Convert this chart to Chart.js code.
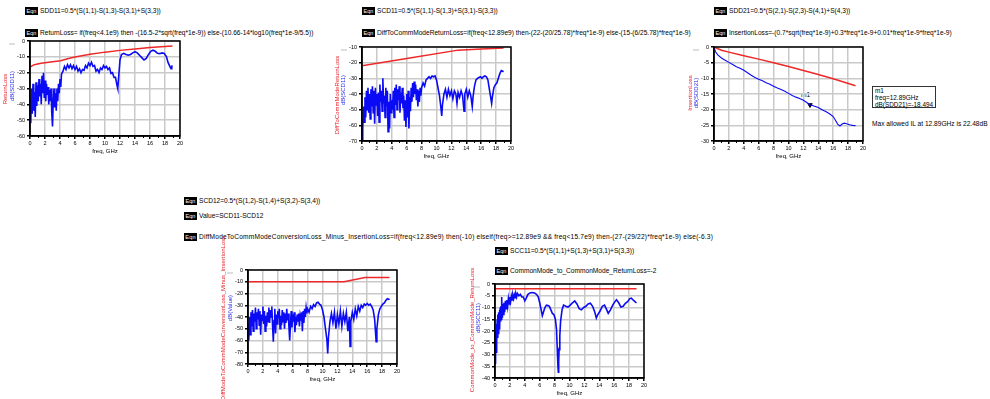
<!DOCTYPE html>
<html lang="en">
<head>
<meta charset="UTF-8">
<title>Mixed-mode S-parameter limits</title>
<script src="https://cdn.jsdelivr.net/npm/chart.js"></script>
<style>
  body { margin: 0; background: #fff; width: 990px; height: 399px; overflow: hidden; position: relative;
         font-family: "Liberation Sans", Arial, sans-serif; color: #000; }
  .eq { position: absolute; white-space: nowrap; font-size: 6.6px; line-height: 8px; }
  .eq .tag { display: inline-block; width: 13px; height: 8px; line-height: 8px; background: #000; color: #fff;
             font-size: 5.5px; text-align: center; margin-right: 2px; vertical-align: top; }
  .plot { position: absolute; }
  .yt { position: absolute; white-space: nowrap; font-size: 6px; transform: translate(-50%, -50%) rotate(-90deg); }
  .red { color: #e8202a; }
  .blue { color: #2a2ae8; }
  .xt { position: absolute; white-space: nowrap; font-size: 6px; transform: translateX(-50%); }
  .unit { position: absolute; font-size: 4px; color: #aaa; }
  .mk { position: absolute; border: 1px solid #333; font-size: 6.4px; line-height: 7.2px; padding: 0 2px; white-space: nowrap; }
  .note { position: absolute; font-size: 6.6px; white-space: nowrap; }
</style>
</head>
<body>

<div class="eq" style="left:25px;top:7px"><span class="tag">Eqn</span>SDD11=0.5*(S(1,1)-S(1,3)-S(3,1)+S(3,3))</div>
<div class="eq" style="left:25px;top:29px"><span class="tag">Eqn</span>ReturnLoss= if(freq&lt;4.1e9) then -(16.5-2*sqrt(freq*1e-9)) else-(10.66-14*log10(freq*1e-9/5.5))</div>

<div class="eq" style="left:362px;top:7px"><span class="tag">Eqn</span>SCD11=0.5*(S(1,1)-S(1,3)+S(3,1)-S(3,3))</div>
<div class="eq" style="left:362px;top:29px"><span class="tag">Eqn</span>DiffToCommModeReturnLoss=if(freq&lt;12.89e9) then-(22-(20/25.78)*freq*1e-9) else-(15-(6/25.78)*freq*1e-9)</div>

<div class="eq" style="left:714px;top:7px"><span class="tag">Eqn</span>SDD21=0.5*(S(2,1)-S(2,3)-S(4,1)+S(4,3))</div>
<div class="eq" style="left:714px;top:29px"><span class="tag">Eqn</span>InsertionLoss=-(0.7*sqrt(freq*1e-9)+0.3*freq*1e-9+0.01*freq*1e-9*freq*1e-9)</div>

<div class="eq" style="left:184px;top:197px"><span class="tag">Eqn</span>SCD12=0.5*(S(1,2)-S(1,4)+S(3,2)-S(3,4))</div>
<div class="eq" style="left:184px;top:212px"><span class="tag">Eqn</span>Value=SCD11-SCD12</div>
<div class="eq" style="left:184px;top:233px;letter-spacing:0.2px"><span class="tag">Eqn</span>DiffModeToCommModeConversionLoss_Minus_InsertionLoss=if(freq&lt;12.89e9) then(-10) elseif(freq&gt;=12.89e9 &amp;&amp; freq&lt;15.7e9) then-(27-(29/22)*freq*1e-9) else(-6.3)</div>

<div class="eq" style="left:495px;top:247px"><span class="tag">Eqn</span>SCC11=0.5*(S(1,1)+S(1,3)+S(3,1)+S(3,3))</div>
<div class="eq" style="left:495px;top:267px"><span class="tag">Eqn</span>CommonMode_to_CommonMode_ReturnLoss=-2</div>

<div class="mk" style="left:872px;top:86px;width:58px;height:20px">m1<br>freq=12.89GHz<br>dB(SDD21)=-18.494</div>
<div class="note" style="left:872px;top:120px">Max allowed IL at 12.89GHz is 22.48dB</div>
<div class="note" style="left:801px;top:91px">m1</div>

<script>
// frequency axis shared by every plot, GHz
const freqTicks = [0, 2, 4, 6, 8, 10, 12, 14, 16, 18, 20];

// dB(SDD11) and its limit
const sdd11Freq = [
  0, 0.1, 0.2, 0.3, 0.4, 0.5, 0.6, 0.7, 0.8, 0.9,
  1, 1.1, 1.2, 1.3, 1.4, 1.5, 1.6, 1.7, 1.8, 1.9,
  2, 2.1, 2.2, 2.3, 2.4, 2.5, 2.6, 2.7, 2.8, 2.9,
  3, 3.1, 3.2, 3.3, 3.4, 3.5, 3.6, 3.7, 3.8, 3.9,
  4, 4.1, 4.2, 4.4, 4.6, 4.8, 5, 5.2, 5.4, 5.6,
  5.8, 6, 6.2, 6.4, 6.6, 6.8, 7, 7.2, 7.4, 7.6,
  7.8, 8, 8.2, 8.4, 8.6, 8.8, 9, 9.2, 9.4, 9.6,
  9.8, 10, 10.2, 10.4, 10.6, 10.8, 11, 11.2, 11.4, 11.6,
  11.7, 11.8, 11.9, 12, 12.2, 12.5, 12.8, 13.1, 13.4, 13.7,
  14, 14.3, 14.6, 14.9, 15.2, 15.5, 15.8, 16.1, 16.4, 16.7,
  17, 17.3, 17.6, 17.9, 18.2, 18.4, 18.6, 18.8, 18.9, 19];
const sdd11Db = [
  -37, -52, -30, -46, -27, -44, -32, -48, -26, -41,
  -28, -38, -24, -35, -27, -40, -22, -33, -20, -36,
  -25, -38, -27, -34, -29, -40, -31, -38, -30, -45,
  -54, -38, -30, -42, -33, -44, -30, -38, -27, -33,
  -24, -29, -21, -19, -16, -18, -15, -17, -15, -17.5,
  -15.5, -18, -16, -19, -17.5, -20, -18, -18.5, -15.5, -17,
  -14, -15.5, -13.5, -16, -15.5, -19, -18, -20, -17, -18,
  -15.5, -17, -16, -18, -17, -20.5, -20, -23, -23, -28,
  -30, -24, -18, -12, -8.5, -7.8, -8.5, -9, -8.5, -7.5,
  -6.8, -7.5, -9, -10.5, -12, -11, -8.5, -6.5, -5.8, -6.5,
  -7.8, -8, -7.5, -7.8, -10, -13.5, -15.5, -17.5, -16, -15.5];
const returnLossFreq = [0, 0.5, 1, 1.5, 2, 3, 4.1, 5, 6, 8, 10, 12, 14, 16, 17.5, 19];
const returnLossDb = [-16.5, -15.09, -14.5, -14.05, -13.67, -13.04, -12.45, -11.24, -10.13, -8.38, -7.03, -5.92, -4.98, -4.17, -3.62, -3.12];

// dB(SCD11) and its limit
const scd11Freq = [
  0, 0.1, 0.2, 0.3, 0.4, 0.5, 0.6, 0.7, 0.8, 0.9,
  1, 1.1, 1.2, 1.3, 1.4, 1.5, 1.6, 1.7, 1.8, 1.9,
  2, 2.1, 2.2, 2.3, 2.4, 2.5, 2.6, 2.7, 2.8, 2.9,
  3, 3.1, 3.2, 3.3, 3.4, 3.5, 3.6, 3.7, 3.8, 3.9,
  4, 4.1, 4.2, 4.3, 4.4, 4.5, 4.6, 4.7, 4.8, 4.9,
  5, 5.1, 5.2, 5.3, 5.4, 5.5, 5.6, 5.7, 5.8, 5.9,
  6, 6.1, 6.2, 6.3, 6.4, 6.5, 6.6, 6.7, 6.8, 6.9,
  7, 7.1, 7.2, 7.3, 7.4, 7.5, 7.6, 7.7, 7.8, 7.9,
  8, 8.2, 8.4, 8.6, 8.8, 9, 9.2, 9.4, 9.6, 9.8,
  10, 10.2, 10.4, 10.6, 10.7, 10.8, 11, 11.2, 11.4, 11.6,
  11.8, 12, 12.2, 12.4, 12.6, 12.75, 12.9, 13.1, 13.3, 13.5,
  13.7, 13.8, 14, 14.2, 14.4, 14.6, 14.8, 14.9, 15.1, 15.3,
  15.5, 15.7, 15.9, 16.1, 16.3, 16.5, 16.7, 16.9, 17.1, 17.3,
  17.4, 17.5, 17.7, 17.9, 18.1, 18.3, 18.5, 18.7, 18.9, 19];
const scd11Db = [
  -69, -62, -48, -58, -42, -55, -38, -50, -36, -52,
  -40, -56, -37, -48, -35, -52, -38, -59, -36, -47,
  -40, -54, -39, -58, -34, -45, -38, -51, -30, -46,
  -41, -55, -36, -48, -38, -64, -45, -62, -40, -52,
  -44, -50, -38, -55, -36, -47, -34, -50, -37, -44,
  -35, -52, -39, -46, -36, -49, -41, -57, -44, -61,
  -40, -55, -38, -62, -42, -51, -36, -45, -33, -42,
  -32, -40, -34, -44, -37, -48, -38, -45, -36, -41,
  -36, -33, -35, -31, -30, -29, -30, -28.5, -29, -28.5,
  -31, -36, -41, -49, -54, -47, -40, -37, -42, -37,
  -41, -38, -43, -38, -40, -46, -39, -42, -38, -41,
  -51, -40, -37, -42, -38, -41, -48, -42, -35, -31,
  -30, -29.5, -29, -30, -29, -28.5, -29, -31, -37, -43,
  -46, -42, -36, -34, -33, -30, -27, -25, -25.5, -25.8];
const diffToCommFreq = [0, 6, 12.89, 16, 19];
const diffToCommDb = [-22, -17.35, -12, -11.28, -10.58];

// dB(SDD21) and its limit
const sdd21Freq = [0, 0.2, 0.5, 1, 1.5, 2, 2.5, 3, 3.5, 4, 4.5, 5, 5.5, 6, 6.5, 7, 7.5, 8, 8.5, 9, 9.5, 10,
  10.5, 11, 11.5, 12, 12.5, 12.89, 13.2, 13.5, 14, 14.5, 15, 15.5, 16, 16.3, 16.6, 16.9, 17.2, 17.5, 17.8, 18.2, 18.6, 19];
const sdd21Db = [0, -1.5, -2.5, -3.5, -4.2, -4.9, -5.6, -6.3, -6.8, -7.4, -8.2, -9, -9.7, -10.3, -10.8, -11.4, -11.9, -12.5, -13.1, -13.6, -14.1, -14.8,
  -15.5, -16, -16.4, -17, -17.8, -18.494, -18.7, -18.9, -19.3, -20, -20.6, -21.3, -22.2, -23.4, -24.6, -25.2, -24.6, -24.3, -24.5, -24.8, -25, -25.1];
const insertionLossFreq = [0, 1, 2, 4, 6, 8, 10, 12, 14, 16, 19];
const insertionLossDb = [0, -1.01, -1.63, -2.76, -3.87, -5.02, -6.21, -7.47, -8.78, -10.16, -12.36];
const markerFreq = 12.89;
const markerDb = -18.494;

// dB(Value) = SCD11 - SCD12 and its limit
const valueFreq = [
  0, 0.1, 0.2, 0.3, 0.4, 0.5, 0.6, 0.7, 0.8, 0.9,
  1, 1.1, 1.2, 1.3, 1.4, 1.5, 1.6, 1.7, 1.8, 1.9,
  2, 2.1, 2.2, 2.3, 2.4, 2.5, 2.6, 2.7, 2.8, 2.9,
  3, 3.1, 3.2, 3.3, 3.4, 3.5, 3.6, 3.7, 3.8, 3.9,
  4, 4.1, 4.2, 4.3, 4.4, 4.5, 4.6, 4.7, 4.8, 4.9,
  5, 5.1, 5.2, 5.3, 5.4, 5.5, 5.6, 5.7, 5.8, 5.9,
  6, 6.1, 6.2, 6.3, 6.4, 6.5, 6.6, 6.7, 6.8, 6.9,
  7, 7.1, 7.2, 7.3, 7.4, 7.5, 7.6, 7.7, 7.8, 7.9,
  8, 8.2, 8.4, 8.6, 8.8, 9, 9.2, 9.4, 9.6, 9.8,
  10, 10.2, 10.4, 10.6, 10.7, 10.8, 11, 11.2, 11.4, 11.6,
  11.8, 12, 12.2, 12.4, 12.6, 12.8, 13, 13.2, 13.4, 13.6,
  13.7, 13.8, 14, 14.2, 14.4, 14.6, 14.8, 15, 15.2, 15.4,
  15.6, 15.8, 16, 16.2, 16.4, 16.6, 16.8, 17, 17.2, 17.3,
  17.5, 17.7, 17.9, 18.1, 18.3, 18.5, 18.7, 18.9, 19];
const valueDb = [
  -45, -60, -40, -55, -36, -48, -34, -52, -37, -44,
  -32, -50, -36, -42, -33, -47, -35, -55, -38, -43,
  -31, -46, -35, -52, -39, -48, -36, -44, -32, -45,
  -34, -40, -31, -48, -61, -43, -33, -54, -38, -46,
  -35, -41, -33, -50, -39, -47, -34, -44, -36, -50,
  -37, -45, -33, -43, -37, -49, -60, -46, -35, -49,
  -38, -44, -36, -53, -40, -47, -38, -44, -37, -48,
  -39, -43, -36, -52, -35, -45, -33, -40, -32, -37,
  -33, -36, -31, -33, -29.5, -31, -28, -27.5, -29, -30,
  -34, -40, -50, -60, -71, -57, -44, -37, -45, -36,
  -50, -38, -46, -35, -48, -37, -44, -36, -52, -40,
  -65, -44, -36, -42, -33, -39, -31, -35, -30, -32,
  -29, -30, -28.5, -30, -29, -31, -34, -42, -61, -50,
  -38, -33, -31, -29, -28, -26, -24.5, -25, -24.5];
const conversionLimitFreq = [0, 12.89, 15.7, 19];
const conversionLimitDb = [-10, -10, -6.3, -6.3];

// dB(SCC11) and its limit
const scc11Freq = [
  0, 0.05, 0.1, 0.15, 0.2, 0.25, 0.3, 0.35, 0.4, 0.45,
  0.5, 0.55, 0.6, 0.65, 0.7, 0.75, 0.8, 0.85, 0.9, 0.95,
  1, 1.1, 1.2, 1.3, 1.4, 1.5, 1.6, 1.7, 1.8, 1.9,
  2, 2.1, 2.2, 2.3, 2.4, 2.5, 2.6, 2.7, 2.8, 2.9,
  3, 3.2, 3.4, 3.6, 3.8, 4, 4.2, 4.4, 4.7, 5,
  5.3, 5.6, 5.8, 6, 6.2, 6.35, 6.5, 6.7, 6.9, 7.1,
  7.3, 7.5, 7.7, 7.9, 8.1, 8.25, 8.35, 8.45, 8.5, 8.55,
  8.6, 8.7, 8.8, 9, 9.2, 9.5, 9.8, 10.1, 10.4, 10.7,
  11, 11.3, 11.6, 11.9, 12.2, 12.5, 12.8, 13.1, 13.4, 13.6,
  13.8, 14.1, 14.4, 14.7, 15, 15.2, 15.5, 15.8, 16.1, 16.3,
  16.6, 16.9, 17.2, 17.5, 17.8, 18.1, 18.3, 18.6, 18.9, 19];
const scc11Db = [
  -28, -34, -20, -29, -17, -25, -15, -23, -13, -21,
  -12, -19, -11, -18, -10, -16, -9.5, -15, -5.5, -14,
  -8.5, -13, -8, -12, -7.2, -10.5, -6.8, -9.5, -6.2, -8.5,
  -5.5, -7.5, -5.2, -6.8, -4.8, -6.2, -4.6, -5.8, -4.3, -5.5,
  -4, -5, -4.4, -5.5, -5.5, -7.2, -6, -4.5, -3.8, -3.6,
  -3.8, -4.5, -5.5, -8, -11, -13.5, -12, -10, -9, -9.2,
  -9.5, -11, -12.5, -13, -15, -19, -27, -35, -37.5, -33,
  -28, -22, -16, -11, -9, -9.5, -9.8, -9, -8, -7.2,
  -8.5, -10.5, -11, -10, -9.5, -8.5, -8.2, -9.5, -12, -14.5,
  -13, -11.5, -9.5, -9, -11, -12.5, -11, -9, -7.5, -6.7,
  -8, -9.8, -9.5, -8.2, -7.5, -6.2, -6, -7, -7.8, -8];
const commonLimitFreq = [0, 19];
const commonLimitDb = [-2, -2];

Chart.defaults.font.family = '"Liberation Sans", Arial, sans-serif';
Chart.defaults.color = '#000';

const RED = 'rgb(238, 40, 40)';
const BLUE = 'rgb(10, 10, 245)';

function points(xs, ys) {
  return xs.map((x, i) => ({ x, y: ys[i] }));
}

// black box round the plot area plus the small odd-GHz ticks under it
const framePlugin = {
  id: 'frame',
  afterDraw(chart) {
    const { ctx, chartArea: a, scales } = chart;
    ctx.save();
    ctx.strokeStyle = '#000';
    ctx.lineWidth = 1;
    for (let f = 1; f < 20; f += 2) {
      const x = Math.round(scales.x.getPixelForValue(f)) + 0.5;
      ctx.beginPath();
      ctx.moveTo(x, a.bottom);
      ctx.lineTo(x, a.bottom + 2);
      ctx.stroke();
    }
    ctx.lineWidth = 1.5;
    ctx.strokeRect(a.left, a.top, a.right - a.left, a.bottom - a.top);
    ctx.restore();
  }
};

function addTexts(p) {
  const mid = (p.left + p.right) / 2;
  document.body.insertAdjacentHTML('beforeend',
    `<div class="yt red" style="left:${p.redTitle[1]}px;top:${p.redTitle[2]}px">${p.redTitle[0]}</div>` +
    `<div class="yt blue" style="left:${p.blueTitle[1]}px;top:${p.blueTitle[2]}px">${p.blueTitle[0]}</div>` +
    `<div class="xt" style="left:${mid}px;top:${p.bottom + 12}px">freq, GHz</div>` +
    `<div class="unit" style="left:${p.left - 21}px;top:${p.top}px">xxx</div>`);
}

function drawPlot(p) {
  const W = p.right - p.left, H = p.bottom - p.top;
  const cw = W + 40, ch = H + 32;
  const holder = document.createElement('div');
  holder.className = 'plot';
  holder.style.left = (p.left - 30) + 'px';
  holder.style.top = (p.top - 6) + 'px';
  const canvas = document.createElement('canvas');
  canvas.width = cw;
  canvas.height = ch;
  canvas.style.width = cw + 'px';
  canvas.style.height = ch + 'px';
  holder.appendChild(canvas);
  document.body.appendChild(holder);

  new Chart(canvas, {
    type: 'line',
    data: { datasets: p.datasets },
    options: {
      responsive: false,
      devicePixelRatio: 1,
      animation: false,
      events: [],
      layout: { padding: { top: 6, right: 10, left: 0, bottom: 0 } },
      plugins: { legend: { display: false }, tooltip: { enabled: false } },
      elements: { point: { radius: 0 }, line: { tension: 0 } },
      scales: {
        x: {
          type: 'linear', min: 0, max: 20,
          afterFit: s => { s.height = ch - 6 - H; },
          afterBuildTicks: s => { s.ticks = freqTicks.map(v => ({ value: v })); },
          ticks: { font: { size: 5.5 }, padding: 1, maxRotation: 0, autoSkip: false },
          grid: { color: '#c9c9c9', lineWidth: 1.5, tickLength: 3, tickColor: '#000' },
          border: { color: '#000', width: 1.5 }
        },
        y: {
          type: 'linear', min: p.yMin, max: p.yMax,
          afterFit: s => { s.width = 30; },
          afterBuildTicks: s => { s.ticks = p.yTicks.map(v => ({ value: v })); },
          ticks: { font: { size: 5.5 }, padding: 2, autoSkip: false },
          grid: { color: '#c9c9c9', lineWidth: 1.5, tickLength: 3, tickColor: '#000' },
          border: { color: '#000', width: 1.5 }
        }
      }
    },
    plugins: [framePlugin]
  });
  addTexts(p);
}

function limitSet(xs, ys) {
  return { data: points(xs, ys), borderColor: RED, borderWidth: 1.5 };
}
function traceSet(xs, ys) {
  return { data: points(xs, ys), borderColor: BLUE, borderWidth: 1.6 };
}

drawPlot({
  left: 30, top: 41, right: 180, bottom: 136,
  yMin: -60, yMax: 0, yTicks: [0, -10, -20, -30, -40, -50, -60],
  redTitle: ['ReturnLoss', 5, 89], blueTitle: ['dB(SDD11)', 12, 86],
  datasets: [limitSet(returnLossFreq, returnLossDb), traceSet(sdd11Freq, sdd11Db)]
});

drawPlot({
  left: 362, top: 47, right: 511, bottom: 141,
  yMin: -70, yMax: -10, yTicks: [-10, -20, -30, -40, -50, -60, -70],
  redTitle: ['DiffToCommModeReturnLoss', 337, 95], blueTitle: ['dB(SCD11)', 343, 90],
  datasets: [limitSet(diffToCommFreq, diffToCommDb), traceSet(scd11Freq, scd11Db)]
});

drawPlot({
  left: 714, top: 47, right: 863, bottom: 141,
  yMin: -30, yMax: 0, yTicks: [0, -5, -10, -15, -20, -25, -30],
  redTitle: ['InsertionLoss', 690, 93], blueTitle: ['dB(SDD21)', 696, 93],
  datasets: [
    limitSet(insertionLossFreq, insertionLossDb),
    { data: points(sdd21Freq, sdd21Db), borderColor: BLUE, borderWidth: 1.1 },
    { data: [{ x: markerFreq, y: markerDb }], showLine: false, pointStyle: 'triangle', rotation: 180,
      pointRadius: 2.5, backgroundColor: '#000', borderColor: '#000' }
  ]
});

drawPlot({
  left: 248, top: 270, right: 397, bottom: 364,
  yMin: -80, yMax: 0, yTicks: [0, -10, -20, -30, -40, -50, -60, -70, -80],
  redTitle: ['DiffModeToCommModeConversionLoss_Minus_InsertionLoss', 223, 318], blueTitle: ['dB(Value)', 230, 308],
  datasets: [limitSet(conversionLimitFreq, conversionLimitDb), traceSet(valueFreq, valueDb)]
});

drawPlot({
  left: 495, top: 284, right: 644, bottom: 378,
  yMin: -40, yMax: 0, yTicks: [0, -5, -10, -15, -20, -25, -30, -35, -40],
  redTitle: ['CommonMode_to_CommonMode_ReturnLoss', 472, 330], blueTitle: ['dB(SCC11)', 478, 318],
  datasets: [limitSet(commonLimitFreq, commonLimitDb), traceSet(scc11Freq, scc11Db)]
});
</script>
</body>
</html>
